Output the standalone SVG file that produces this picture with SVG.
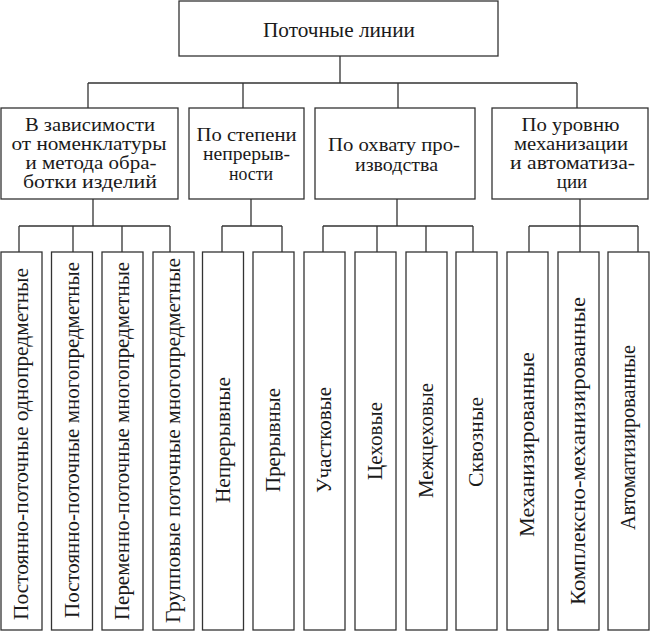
<svg xmlns="http://www.w3.org/2000/svg" width="650" height="634" viewBox="0 0 650 634">
<style>
rect{fill:#fff;stroke:#333;stroke-width:1.3}
#connectors path{fill:none;stroke:#333;stroke-width:1.3}
text{font-family:"Liberation Serif","Times New Roman","DejaVu Serif",serif;fill:#1a1a1a;text-anchor:middle}
.t{font-size:20px}
.c{font-size:19px}
.l{font-size:20px}
</style>
<rect x="0" y="0" width="650" height="634" style="fill:#fff;stroke:none"/>
<g id="connectors">
<path d="M340 56V83M88 83H577M88 83V108M243 83V108M398 83V108M577 83V108"/>
<path d="M93 199V226M19 226H170M19 226V252M73 226V252M122 226V252M170 226V252"/>
<path d="M251 199V226M222 226H282M222 226V252M282 226V252"/>
<path d="M397 199V226M323 226H473M323 226V252M377 226V252M426 226V252M473 226V252"/>
<path d="M580 199V226M529 226H638M529 226V252M580 226V252M638 226V252"/>
</g>
<g id="root"><rect x="179" y="1" width="319" height="55"/><text class="t" x="339" y="36.5" textLength="152" lengthAdjust="spacingAndGlyphs">Поточные линии</text></g>
<g id="cat1"><rect x="1" y="108" width="177" height="91"/>
<text class="c" x="90" y="130.5" textLength="130" lengthAdjust="spacingAndGlyphs">В зависимости</text>
<text class="c" x="89" y="149.5" textLength="155" lengthAdjust="spacingAndGlyphs">от номенклатуры</text>
<text class="c" x="91" y="168.5" textLength="131" lengthAdjust="spacingAndGlyphs">и метода обра-</text>
<text class="c" x="90" y="187.5" textLength="134" lengthAdjust="spacingAndGlyphs">ботки изделий</text></g>
<g id="cat2"><rect x="189" y="108" width="115" height="91"/>
<text class="c" x="246.5" y="140.5" textLength="100" lengthAdjust="spacingAndGlyphs">По степени</text>
<text class="c" x="246.5" y="160" textLength="87" lengthAdjust="spacingAndGlyphs">непрерыв-</text>
<text class="c" x="251" y="179.5" textLength="44" lengthAdjust="spacingAndGlyphs">ности</text></g>
<g id="cat3"><rect x="315" y="108" width="160" height="91"/>
<text class="c" x="394" y="151" textLength="132" lengthAdjust="spacingAndGlyphs">По охвату про-</text>
<text class="c" x="396.5" y="170.5" textLength="83" lengthAdjust="spacingAndGlyphs">изводства</text></g>
<g id="cat4"><rect x="492" y="108" width="156" height="91"/>
<text class="c" x="570.5" y="130.5" textLength="98" lengthAdjust="spacingAndGlyphs">По уровню</text>
<text class="c" x="571" y="149.5" textLength="114" lengthAdjust="spacingAndGlyphs">механизации</text>
<text class="c" x="572.5" y="168.5" textLength="125" lengthAdjust="spacingAndGlyphs">и автоматиза-</text>
<text class="c" x="572" y="187.5">ции</text></g>
<g id="leaf1"><rect x="1" y="252" width="41" height="378"/><text class="l" x="28" y="444" transform="rotate(-90 28 444)" textLength="352" lengthAdjust="spacingAndGlyphs">Постоянно-поточные однопредметные</text></g>
<g id="leaf2"><rect x="51.5" y="252" width="41" height="378"/><text class="l" x="78.5" y="440" transform="rotate(-90 78.5 440)" textLength="356" lengthAdjust="spacingAndGlyphs">Постоянно-поточные многопредметные</text></g>
<g id="leaf3"><rect x="102" y="252" width="41" height="378"/><text class="l" x="129" y="441" transform="rotate(-90 129 441)" textLength="358" lengthAdjust="spacingAndGlyphs">Переменно-поточные многопредметные</text></g>
<g id="leaf4"><rect x="153" y="252" width="41" height="378"/><text class="l" x="180" y="440.5" transform="rotate(-90 180 440.5)" textLength="365" lengthAdjust="spacingAndGlyphs">Групповые поточные многопредметные</text></g>
<g id="leaf5"><rect x="202.5" y="252" width="41" height="378"/><text class="l" x="229.5" y="440" transform="rotate(-90 229.5 440)" textLength="126" lengthAdjust="spacingAndGlyphs">Непрерывные</text></g>
<g id="leaf6"><rect x="253" y="252" width="41" height="378"/><text class="l" x="280" y="440" transform="rotate(-90 280 440)" textLength="104" lengthAdjust="spacingAndGlyphs">Прерывные</text></g>
<g id="leaf7"><rect x="304" y="252" width="41" height="378"/><text class="l" x="331" y="440" transform="rotate(-90 331 440)" textLength="106" lengthAdjust="spacingAndGlyphs">Участковые</text></g>
<g id="leaf8"><rect x="355" y="252" width="41" height="378"/><text class="l" x="382" y="441" transform="rotate(-90 382 441)" textLength="78" lengthAdjust="spacingAndGlyphs">Цеховые</text></g>
<g id="leaf9"><rect x="406" y="252" width="41" height="378"/><text class="l" x="433" y="440.5" transform="rotate(-90 433 440.5)" textLength="115" lengthAdjust="spacingAndGlyphs">Межцеховые</text></g>
<g id="leaf10"><rect x="456" y="252" width="41" height="378"/><text class="l" x="483" y="442" transform="rotate(-90 483 442)" textLength="90" lengthAdjust="spacingAndGlyphs">Сквозные</text></g>
<g id="leaf11"><rect x="507" y="252" width="41" height="378"/><text class="l" x="534" y="444.5" transform="rotate(-90 534 444.5)" textLength="185" lengthAdjust="spacingAndGlyphs">Механизированные</text></g>
<g id="leaf12"><rect x="558" y="252" width="41" height="378"/><text class="l" x="585" y="451" transform="rotate(-90 585 451)" textLength="308" lengthAdjust="spacingAndGlyphs">Комплексно-механизированные</text></g>
<g id="leaf13"><rect x="608" y="252" width="41" height="378"/><text class="l" x="635" y="437.5" transform="rotate(-90 635 437.5)" textLength="185" lengthAdjust="spacingAndGlyphs">Автоматизированные</text></g>
</svg>
